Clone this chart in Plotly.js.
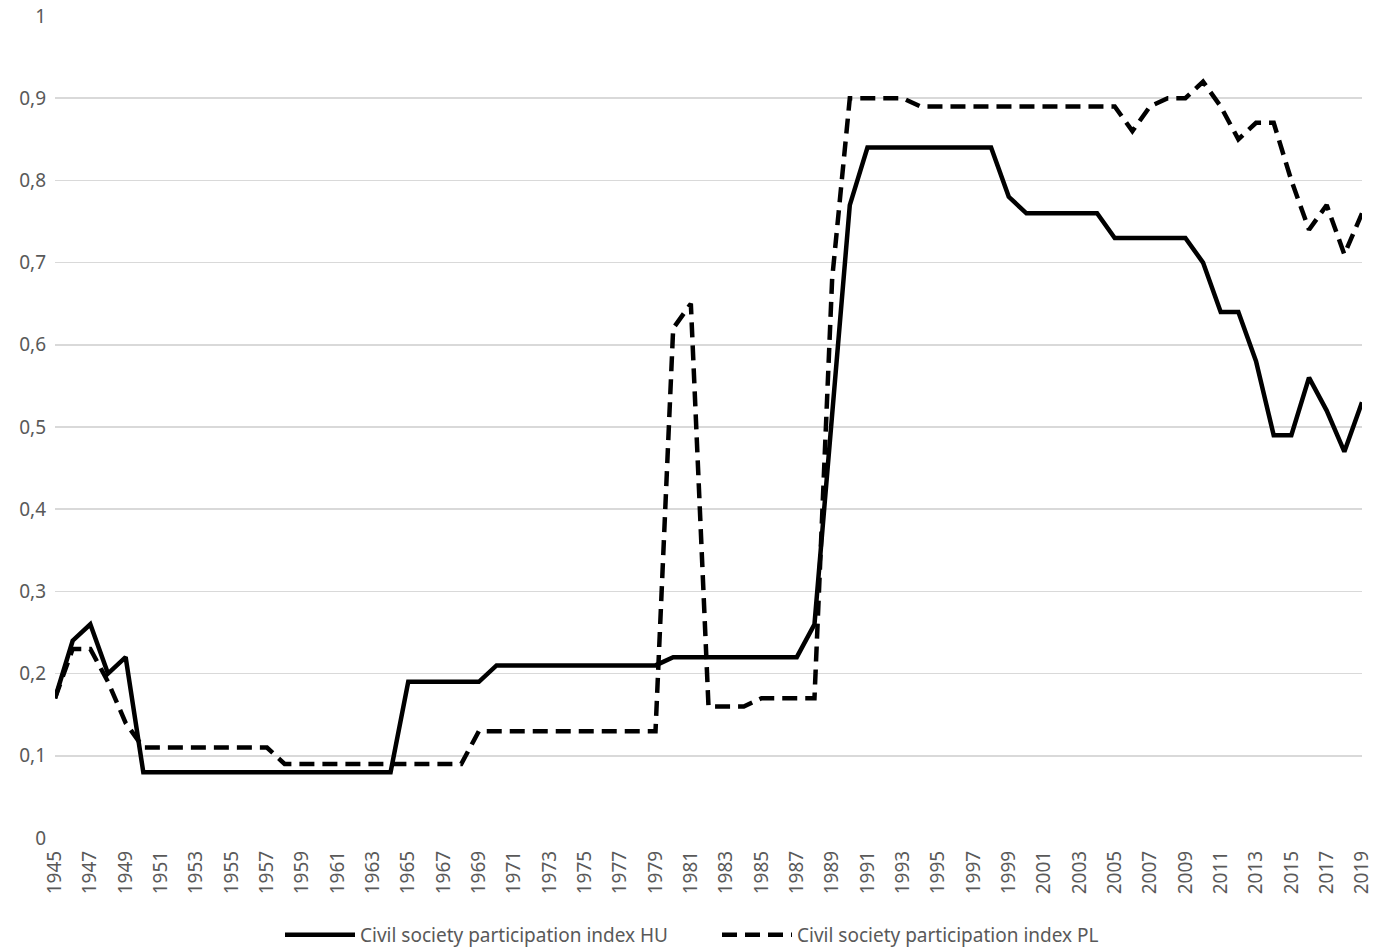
<!DOCTYPE html>
<html>
<head>
<meta charset="utf-8">
<script src="https://cdn.plot.ly/plotly-3.0.1.min.js"></script>
<style>html,body{margin:0;padding:0;background:#fff;}#chart{width:1380px;height:952px;}</style>
</head>
<body>
<div id="chart"></div>
<script>
const years = [];
for (let y = 1945; y <= 2019; y++) years.push(y);

const huValues = [
  0.17, 0.24, 0.26, 0.20, 0.22, 0.08, 0.08, 0.08, 0.08, 0.08,   // 1945-1954
  0.08, 0.08, 0.08, 0.08, 0.08, 0.08, 0.08, 0.08, 0.08, 0.08,   // 1955-1964
  0.19, 0.19, 0.19, 0.19, 0.19, 0.21, 0.21, 0.21, 0.21, 0.21,   // 1965-1974
  0.21, 0.21, 0.21, 0.21, 0.21, 0.22, 0.22, 0.22, 0.22, 0.22,   // 1975-1984
  0.22, 0.22, 0.22, 0.26, 0.52, 0.77, 0.84, 0.84, 0.84, 0.84,   // 1985-1994
  0.84, 0.84, 0.84, 0.84, 0.78, 0.76, 0.76, 0.76, 0.76, 0.76,   // 1995-2004
  0.73, 0.73, 0.73, 0.73, 0.73, 0.70, 0.64, 0.64, 0.58, 0.49,   // 2005-2014
  0.49, 0.56, 0.52, 0.47, 0.53                                  // 2015-2019
];

const plValues = [
  0.17, 0.23, 0.23, 0.19, 0.14, 0.11, 0.11, 0.11, 0.11, 0.11,   // 1945-1954
  0.11, 0.11, 0.11, 0.09, 0.09, 0.09, 0.09, 0.09, 0.09, 0.09,   // 1955-1964
  0.09, 0.09, 0.09, 0.09, 0.13, 0.13, 0.13, 0.13, 0.13, 0.13,   // 1965-1974
  0.13, 0.13, 0.13, 0.13, 0.13, 0.62, 0.65, 0.16, 0.16, 0.16,   // 1975-1984
  0.17, 0.17, 0.17, 0.17, 0.68, 0.90, 0.90, 0.90, 0.90, 0.89,   // 1985-1994
  0.89, 0.89, 0.89, 0.89, 0.89, 0.89, 0.89, 0.89, 0.89, 0.89,   // 1995-2004
  0.89, 0.86, 0.89, 0.90, 0.90, 0.92, 0.89, 0.85, 0.87, 0.87,   // 2005-2014
  0.80, 0.74, 0.77, 0.71, 0.76                                  // 2015-2019
];

const xTickVals = [];
for (let y = 1945; y <= 2019; y += 2) xTickVals.push(y);
const yTickVals = [0, 0.1, 0.2, 0.3, 0.4, 0.5, 0.6, 0.7, 0.8, 0.9, 1];

const seriesNames = ['Civil society participation index HU', 'Civil society participation index PL'];

const font = 'Noto Sans, Open Sans, sans-serif';
const tickColor = '#595959';

const traces = [
  {
    x: years, y: huValues, name: seriesNames[0], type: 'scatter', mode: 'lines',
    line: {color: '#000000', width: 4.5, dash: 'solid'}
  },
  {
    x: years, y: plValues, name: seriesNames[1], type: 'scatter', mode: 'lines',
    line: {color: '#000000', width: 4.5, dash: '15px,8px'}
  }
];

const layout = {
  width: 1380, height: 952,
  paper_bgcolor: '#ffffff', plot_bgcolor: '#ffffff',
  margin: {l: 55, r: 18, t: 16, b: 114},
  separators: ', ',
  showlegend: true,
  legend: {
    orientation: 'h', xref: 'container', yref: 'container',
    x: 0.2029, xanchor: 'left', y: 0.0179, yanchor: 'middle',
    font: {family: font, size: 19, color: tickColor},
    itemwidth: 70, entrywidth: 352, entrywidthmode: 'pixels', traceorder: 'normal'
  },
  xaxis: {
    type: 'linear', range: [1945, 2019],
    tickmode: 'array', tickvals: xTickVals, ticktext: xTickVals.map(String),
    tickangle: -90, showgrid: false, zeroline: false, showline: false,
    ticks: '', ticklabelstandoff: 8,
    tickfont: {family: font, size: 19, color: tickColor}
  },
  yaxis: {
    range: [0, 1], tickmode: 'array', tickvals: yTickVals,
    ticktext: yTickVals.map(v => String(v).replace('.', ',')),
    showgrid: true, gridcolor: '#d9d9d9', gridwidth: 1.5,
    zeroline: false, showline: false, ticks: '', ticklabelstandoff: 8,
    tickfont: {family: font, size: 19, color: tickColor}
  }
};

Plotly.newPlot('chart', traces, layout, {displayModeBar: false, staticPlot: true});
</script>
</body>
</html>
